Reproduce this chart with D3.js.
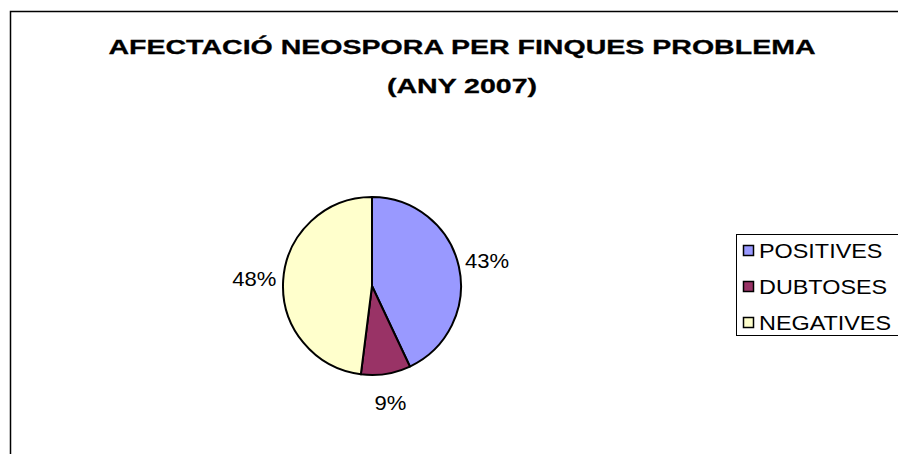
<!DOCTYPE html>
<html><head><meta charset="utf-8">
<script src="https://cdn.jsdelivr.net/npm/d3@7"></script>
<style>body{margin:0;background:#fff}svg{display:block}text{font-family:"Liberation Sans",Arial,sans-serif}</style>
</head><body>
<svg id="c" width="898" height="454"></svg>
<script>
const titleLines = ["AFECTACIÓ NEOSPORA PER FINQUES PROBLEMA", "(ANY 2007)"];
const categories = ["POSITIVES", "DUBTOSES", "NEGATIVES"];
const values = [43, 9, 48];
const colors = ["#9999FF", "#993366", "#FFFFCC"];

const svg = d3.select("#c");
svg.append("path").attr("d","M10.5,454 V11.5 H898").attr("fill","none").attr("stroke","#000").attr("stroke-width",1.5);

svg.selectAll("text.title").data(titleLines).enter().append("text")
  .attr("class","title").attr("transform",(d,i)=>`translate(462,${54+i*39}) scale(1.36,1)`)
  .attr("text-anchor","middle").attr("font-weight","bold").attr("font-size",21)
  .attr("stroke","#000").attr("stroke-width",0.3)
  .text(d=>d);

const cx=372, cy=286, r=89;
const pie = d3.pie().sort(null).value(d=>d);
const arcs = pie(values);
const arc = d3.arc().innerRadius(0).outerRadius(r);
const g = svg.append("g").attr("transform",`translate(${cx},${cy})`);
g.selectAll("path").data(arcs).enter().append("path")
  .attr("d",arc).attr("fill",(d,i)=>colors[i]).attr("stroke","#000").attr("stroke-width",2).attr("stroke-linejoin","round");

const total = d3.sum(values);
const labelArc = d3.arc().innerRadius(r+29).outerRadius(r+29);
g.selectAll("text").data(arcs).enter().append("text")
  .attr("transform",d=>{const c=labelArc.centroid(d);return `translate(${c[0]},${c[1]}) scale(1.05,1)`;})
  .attr("text-anchor","middle").attr("dy","0.35em").attr("font-size",21)
  .text(d=>Math.round(d.value/total*100)+"%");

const lg = svg.append("g");
lg.append("rect").attr("x",736.5).attr("y",234.5).attr("width",170).attr("height",101)
  .attr("fill","#fff").attr("stroke","#000").attr("stroke-width",1);
const items = lg.selectAll("g.item").data(categories).enter().append("g").attr("class","item")
  .attr("transform",(d,i)=>`translate(743,${251+i*36})`);
items.append("rect").attr("x",0.5).attr("y",-5.5).attr("width",10).attr("height",10)
  .attr("fill",(d,i)=>colors[i]).attr("stroke","#000").attr("stroke-width",1.5);
items.append("text").attr("transform","translate(16,0) scale(1.2,1)").attr("dy","0.35em").attr("font-size",19.5).text(d=>d);
</script>
</body></html>
